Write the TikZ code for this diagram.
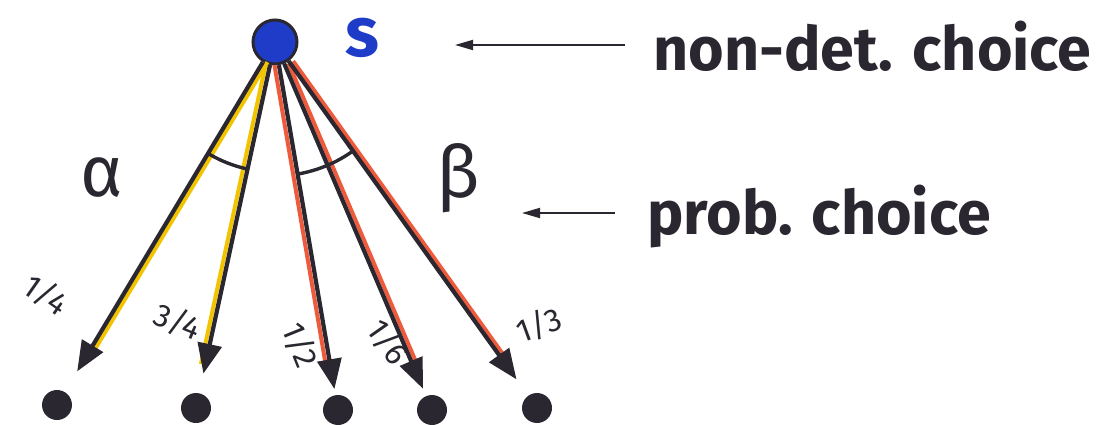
\documentclass[tikz,border=0pt]{standalone}
\usepackage{fontspec}
\setmainfont{Fira Sans}
\usetikzlibrary{arrows.meta,angles,calc}
\definecolor{ink}{HTML}{2B2730}
\definecolor{sblue}{HTML}{1E3CC8}
\definecolor{yel}{HTML}{F2C400}
\definecolor{redo}{HTML}{EE5A3C}
\tikzset{
  leaf/.style={circle,fill=ink,minimum size=30pt,inner sep=0pt},
  src/.style={circle,fill=sblue,draw=ink,line width=3pt,minimum size=44pt,inner sep=0pt},
  edge/.style={draw=ink,line width=4.2pt,-{Triangle[length=30pt,width=24pt]}},
  under/.style={line width=4pt},
  prob/.style={font=\fontsize{32}{32}\selectfont,text=ink,inner sep=0pt},
  note/.style={font=\fontsize{61}{61}\selectfont\bfseries,text=ink,anchor=west},
  pointer/.style={draw=ink,line width=1.8pt,-{Triangle[length=18pt,width=10pt]}},
  greek/.style={font=\fontsize{72}{72}\selectfont,text=ink},
  ang/.style={draw=ink,line width=3.4pt}
}
\begin{document}
\begin{tikzpicture}[x=1pt,y=1pt]
\useasboundingbox (0,0) rectangle (1096,424);
\node[src] (s) at (275,382) {};
\node[font=\fontsize{70}{70}\selectfont\bfseries,text=sblue,inner sep=0pt] (slab) at (362,386) {s};
\node[leaf] (l1) at (57,19) {};
\node[leaf] (l2) at (196,16) {};
\node[leaf] (l3) at (338,14) {};
\node[leaf] (l4) at (432,14) {};
\node[leaf] (l5) at (537,16) {};
% coloured underlays
\draw[under,yel,transform canvas={xshift=4.5pt}] (s) -- ($(s)!0.86!(l1)$);
\draw[under,yel,transform canvas={xshift=-4.5pt}] (s) -- ($(s)!0.88!(l2)$);
\draw[under,redo,transform canvas={xshift=-4.5pt}] (s) -- ($(s)!0.9!(l3)$);
\draw[under,redo,transform canvas={xshift=4.5pt}] (s) -- ($(s)!0.9!(l4)$);
\draw[under,redo,transform canvas={xshift=4.5pt}] (s) -- ($(s)!0.88!(l5)$);
% edges
\draw[edge,shorten >=24pt] (s) -- (l1);
\draw[edge,shorten >=20pt] (s) -- (l2);
\draw[edge,shorten >=6pt] (s) -- (l3);
\draw[edge,shorten >=8pt] (s) -- (l4);
\draw[edge,shorten >=20pt] (s) -- (l5);
% angle arcs
\pic[ang,angle radius=130pt] {angle = l1--s--l2};
\pic[ang,angle radius=134pt] {angle = l3--s--l5};
% greek labels
\node[greek] (alpha) at (102,246) {α};
\node[greek] (beta) at (458,246) {β};
% probabilities
\node[prob,rotate=-35] (p1) at (46,129) {1/4};
\node[prob,rotate=-22] (p2) at (178,102) {3/4};
\node[prob,rotate=-68] (p3) at (300,79) {1/2};
\node[prob,rotate=-55] (p4) at (388,82) {1/6};
\node[prob,rotate=20] (p5) at (539,99) {1/3};
% notes
\node[note] (nd) at (650,378) {non-det. choice};
\node[note] (pc) at (644,207) {prob. choice};
\coordinate (a1) at (625,379);
\coordinate (b1) at (455,379);
\coordinate (a2) at (615,211);
\coordinate (b2) at (522,211);
\draw[pointer] (a1) -- (b1);
\draw[pointer] (a2) -- (b2);
\end{tikzpicture}
\end{document}
